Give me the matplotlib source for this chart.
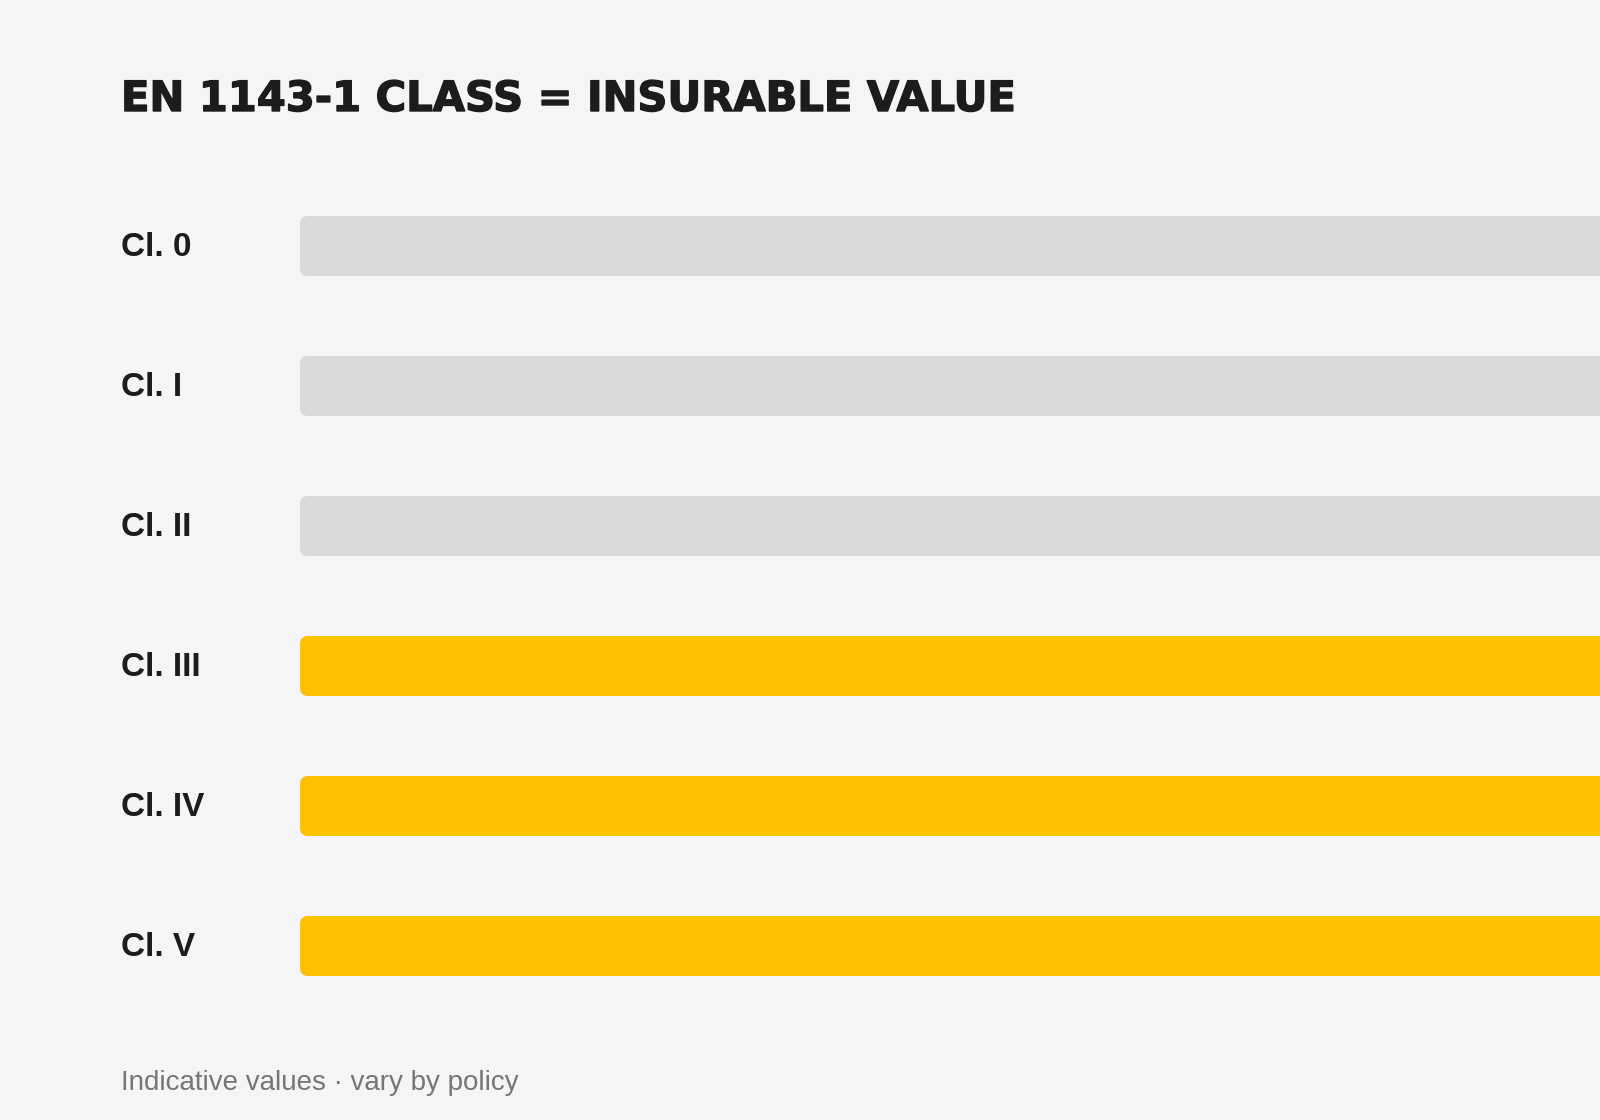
import matplotlib
matplotlib.use("Agg")
import matplotlib.pyplot as plt
import matplotlib.patheffects as pe
from matplotlib.patches import FancyBboxPatch
from matplotlib.transforms import blended_transform_factory

# data
classes = ["Cl. 0", "Cl. I", "Cl. II", "Cl. III", "Cl. IV", "Cl. V"]
values = [1.0, 1.0, 1.0, 1.0, 1.0, 1.0]   # every bar runs past the right edge
insurable = [False, False, False, True, True, True]

title = "EN 1143-1 CLASS = INSURABLE VALUE"
footnote = "Indicative values \u00b7 vary by policy"

BG = "#f5f5f7"
GREY = "#d9d9d9"
GOLD = "#ffc100"
INK = "#1c1c1c"

W, H = 1600, 1120
fig = plt.figure(figsize=(W / 100, H / 100), dpi=100, facecolor=BG)

# axes placed in pixels: bars start at x=300, rows are 140px apart
ax_left, ax_top, ax_bottom = 300, 176, 1016
ax = fig.add_axes([ax_left / W, 1 - ax_bottom / H, (W - ax_left) / W, (ax_bottom - ax_top) / H])
ax.set_facecolor(BG)
ax.set_xlim(0, 0.985)
ax.set_ylim(len(classes) - 0.5, -0.5)
ax.axis("off")

bar_h = 60 / 140
x_per_px = 0.985 / (W - ax_left)
y_per_px = len(classes) / (ax_bottom - ax_top)
radius = 8 * x_per_px

for i, (v, ok) in enumerate(zip(values, insurable)):
    patch = FancyBboxPatch((0, i - bar_h / 2), v, bar_h,
                           boxstyle=f"round,pad=0,rounding_size={radius}",
                           mutation_aspect=y_per_px / x_per_px,
                           facecolor=GOLD if ok else GREY, edgecolor="none",
                           clip_on=True)
    ax.add_patch(patch)

# class labels: baseline sits ~10px below the bar centre
lab_tr = blended_transform_factory(fig.transFigure, ax.transData)
for i, name in enumerate(classes):
    fig.text(121 / W, i + 10 * y_per_px, name, transform=lab_tr, ha="left", va="baseline",
             fontsize=24, fontweight="bold", family="Liberation Sans", color=INK)

t = fig.text(121 / W, 1 - 111 / H, title, ha="left", va="baseline",
             fontsize=30, fontweight="heavy", family="DejaVu Sans", color=INK)
t.set_path_effects([pe.withStroke(linewidth=1.0, foreground=INK)])

fig.text(121 / W, 1 - 1090 / H, footnote, ha="left", va="baseline",
         fontsize=20, family="Liberation Sans", color="#767676")

fig.savefig("out.png", dpi=100, facecolor=BG)
